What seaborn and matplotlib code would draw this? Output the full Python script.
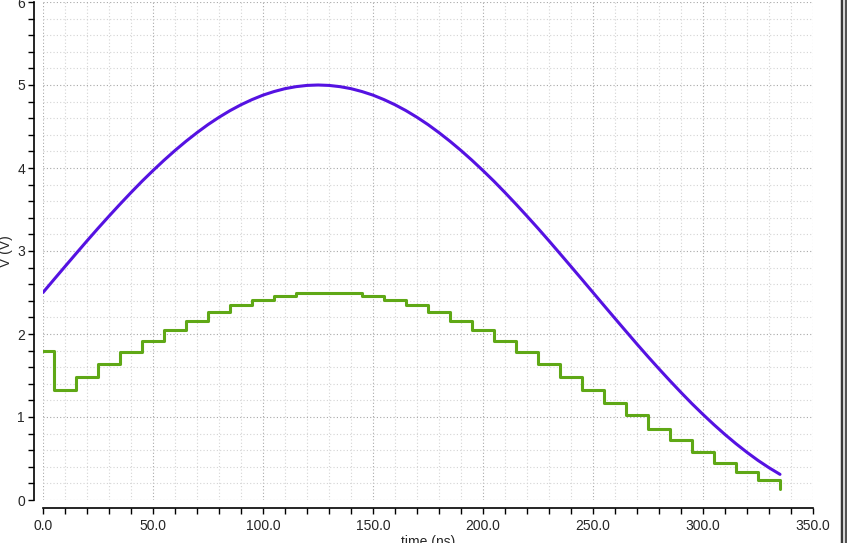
import matplotlib
matplotlib.use("Agg")
import matplotlib.pyplot as plt
import matplotlib.ticker as mticker
from matplotlib.lines import Line2D
from matplotlib.patches import Rectangle
import seaborn as sns
import pandas as pd

# ---- data ----
sine_t = [0, 5, 10, 15, 20, 25, 30, 35, 40, 45, 50, 55, 60, 65, 70, 75, 80, 85,
          90, 95, 100, 105, 110, 115, 120, 125, 130, 135, 140, 145, 150, 155,
          160, 165, 170, 175, 180, 185, 190, 195, 200, 205, 210, 215, 220, 225,
          230, 235, 240, 245, 250, 255, 260, 265, 270, 275, 280, 285, 290, 295,
          300, 305, 310, 315, 320, 325, 330, 335]
sine_v = [2.500, 2.657, 2.813, 2.968, 3.122, 3.273, 3.420, 3.564, 3.704, 3.840,
          3.969, 4.093, 4.211, 4.322, 4.426, 4.523, 4.611, 4.691, 4.762, 4.824,
          4.878, 4.921, 4.956, 4.980, 4.995, 5.000, 4.995, 4.980, 4.956, 4.921,
          4.878, 4.824, 4.762, 4.691, 4.611, 4.523, 4.426, 4.322, 4.211, 4.093,
          3.969, 3.840, 3.704, 3.564, 3.420, 3.273, 3.122, 2.968, 2.813, 2.657,
          2.500, 2.343, 2.187, 2.032, 1.878, 1.727, 1.580, 1.436, 1.296, 1.160,
          1.031, 0.907, 0.789, 0.678, 0.574, 0.477, 0.389, 0.309]

step_t = [0, 5, 15, 25, 35, 45, 55, 65, 75, 85, 95, 105, 115, 125, 135, 145,
          155, 165, 175, 185, 195, 205, 215, 225, 235, 245, 255, 265, 275, 285,
          295, 305, 315, 325, 335]
step_v = [1.79, 1.33, 1.48, 1.64, 1.78, 1.92, 2.05, 2.16, 2.26, 2.35, 2.41,
          2.46, 2.49, 2.50, 2.49, 2.46, 2.41, 2.35, 2.26, 2.16, 2.05, 1.92,
          1.78, 1.64, 1.48, 1.33, 1.17, 1.02, 0.86, 0.72, 0.58, 0.45, 0.34,
          0.24, 0.13]

x_ticks = [0, 50, 100, 150, 200, 250, 300, 350]
x_tick_labels = ["0.0", "50.0", "100.0", "150.0", "200.0", "250.0", "300.0", "350.0"]
y_ticks = [0, 1, 2, 3, 4, 5, 6]
y_tick_labels = ["0", "1", "2", "3", "4", "5", "6"]

# ---- style ----
sns.set_style("white")
plt.rcParams["font.family"] = ["Liberation Sans", "DejaVu Sans"]
plt.rcParams["font.size"] = 10

fig = plt.figure(figsize=(8.47, 5.43), dpi=100)
ax = fig.add_axes([43 / 847, 43 / 543, 770 / 847, 498 / 543])

df_sine = pd.DataFrame({"t": sine_t, "v": sine_v})
df_step = pd.DataFrame({"t": step_t, "v": step_v})

sns.lineplot(data=df_sine, x="t", y="v", ax=ax, color="#5512e2",
             linewidth=2.2, estimator=None, zorder=3)
sns.lineplot(data=df_step, x="t", y="v", ax=ax, color="#5fa816",
             linewidth=2.2, estimator=None, drawstyle="steps-post", zorder=3)

ax.set_xlim(0, 350)
ax.set_ylim(0, 6)

ax.set_xticks(x_ticks)
ax.set_xticklabels(x_tick_labels)
ax.set_yticks(y_ticks)
ax.set_yticklabels(y_tick_labels)
ax.xaxis.set_minor_locator(mticker.MultipleLocator(10))
ax.yaxis.set_minor_locator(mticker.MultipleLocator(0.2))

ax.grid(which="major", linestyle=(0, (1, 2)), color="#a8a8a8", linewidth=0.8)
ax.grid(which="minor", linestyle=(0, (1, 2)), color="#d4d4d4", linewidth=0.8)
ax.set_axisbelow(True)

for s in ("top", "right"):
    ax.spines[s].set_visible(False)
ax.spines["left"].set_position(("outward", 6.5))
ax.spines["bottom"].set_position(("outward", 5.5))
ax.spines["left"].set_color("black")
ax.spines["bottom"].set_color("black")
ax.spines["left"].set_linewidth(1.2)
ax.spines["bottom"].set_linewidth(1.2)

ax.tick_params(axis="both", which="major", direction="out", length=4.5,
               width=1.0, color="black", labelsize=10, pad=2)
ax.tick_params(axis="both", which="minor", direction="out", length=4.5,
               width=1.0, color="black")
ax.tick_params(axis="both", bottom=True, left=True, which="both")
ax.tick_params(axis="x", which="major", pad=4)

ax.set_xlabel("time (ns)", fontsize=10, labelpad=1)
ax.set_ylabel("V (V)", fontsize=10, labelpad=3)

# window border on the right edge
fig.add_artist(Rectangle((840 / 847, 0), 7 / 847, 1, transform=fig.transFigure,
                         facecolor="#d8d8d8", edgecolor="none"))
fig.add_artist(Line2D([841.5 / 847, 841.5 / 847], [0, 1], transform=fig.transFigure,
                      color="#3a3a3a", linewidth=1.5))
fig.add_artist(Line2D([846 / 847, 846 / 847], [0, 1], transform=fig.transFigure,
                      color="#3a3a3a", linewidth=1.2))

fig.savefig("out.png", dpi=100)
